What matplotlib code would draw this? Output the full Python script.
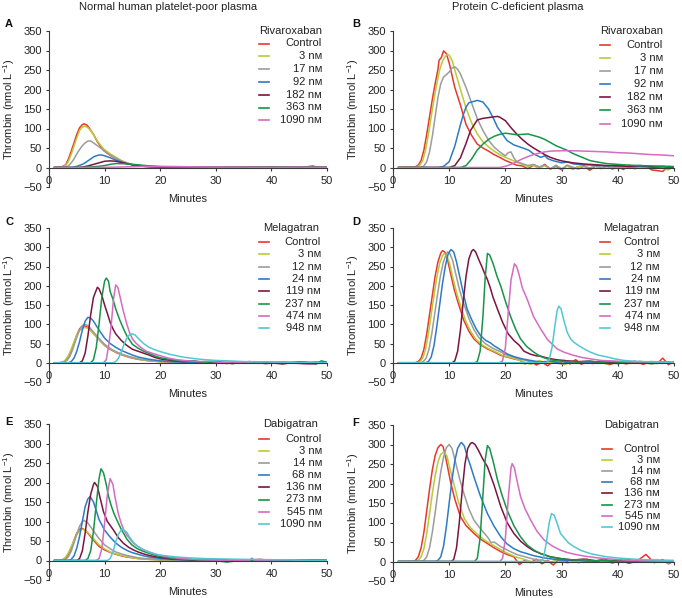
import matplotlib
matplotlib.use('Agg')
import matplotlib.pyplot as plt
from matplotlib.lines import Line2D

plt.rcParams['font.family'] = ['Liberation Sans', 'DejaVu Sans']
plt.rcParams['mathtext.fontset'] = 'custom'
plt.rcParams['mathtext.rm'] = 'Liberation Sans'
plt.rcParams['mathtext.it'] = 'Liberation Sans:italic'
plt.rcParams['font.size'] = 8

# ---------------- data ----------------
column_titles = ['Normal human platelet-poor plasma', 'Protein C-deficient plasma']
x_ticks = [0, 10, 20, 30, 40, 50]
y_ticks = [-50, 0, 50, 100, 150, 200, 250, 300, 350]

riva_labels = ['Control', '3 nᴍ', '17 nᴍ', '92 nᴍ', '182 nᴍ', '363 nᴍ', '1090 nᴍ']
mela_labels = ['Control', '3 nᴍ', '12 nᴍ', '24 nᴍ', '119 nᴍ', '237 nᴍ', '474 nᴍ', '948 nᴍ']
dabi_labels = ['Control', '3 nᴍ', '14 nᴍ', '68 nᴍ', '136 nᴍ', '273 nᴍ', '545 nᴍ', '1090 nᴍ']

# Panel A: rivaroxaban, normal plasma (minutes, thrombin nmol/L)
A_times = [
    [1,2,2.5,3,3.5,4,4.5,5,5.5,6,6.3,6.8,7.3,8,8.7,9.8,11,12.2,13,14,15,16,17,18,20,22,24,26,28,30,32,34,36,38,40,42,44,46,47.5,48.5,50],
    [1,2,2.5,3,3.5,4,4.5,5,5.5,6,6.5,7,7.5,8,8.7,9.8,11,12.2,13,14,15,16,17,18,20,25,30,35,40,45,50],
    [1,3,3.5,4,4.5,5,5.5,6,6.5,7,7.5,8,9,10,11,12,13,14,15,16,18,20,25,30,35,40,45,50],
    [1,4,5,6,6.5,7,7.5,8,8.5,9,9.5,10,11,12,13,14,15,16,18,20,25,30,35,40,45,50],
    [1,5,6,7,8,9,10,11,12,13,14,15,16,18,20,22,25,30,35,40,45,50],
    [1,6,7,8,9,10,11,12,13,14,15,16,18,20,22,25,30,35,40,45,50],
    [1,8,12,15,18,20,25,30,35,40,45,50],
]
A_values = [
    [0,1,3,7,22,42,63,85,102,110,112,109,100,85,66,44,31,22,16,11,7,5,3,2,1,1,0,2,-1,1,0,-1,1,0,2,-1,0,1,4,-2,1],
    [0,0,2,5,16,34,55,76,95,104,106,102,95,84,68,48,35,25,18,12,8,5,3,2,1,1,0,1,0,1,0],
    [0,1,4,12,22,35,46,56,63,68,68,63,53,42,32,24,17,11,7,4,2,1,1,0,1,0,1,0],
    [0,0,3,8,12,17,22,27,30,32,32,30,25,19,14,10,7,5,2,1,1,0,1,0,1,0],
    [0,0,1,4,8,12,16,17,16,13,10,7,5,3,2,1,1,0,1,0,1,0],
    [0,0,1,2,3,5,8,10,10,9,8,7,4,2,1,1,0,1,0,1,0],
    [0,0,1,2,3,3,2,1,1,0,1,0],
]

# Panel B: rivaroxaban, protein C-deficient plasma
B_times = [
    [1,4,4.5,5,5.5,6,6.5,7,7.5,8,8.2,8.6,9,9.5,10,10.5,11,12,13,14,15,16,17,18,19,20,21,22,23,24,25,26,27,28,29,30,31,32,33,34,35,36,37,38,39,40,41,42,43,44,45,46,47,48,49,50],
    [1,4.3,4.8,5.3,5.8,6.3,6.8,7.3,7.8,8.3,8.8,9.3,9.7,10,10.5,11,12,13,14,15,16,17,18,19,20,21,22,23,24,25,26,27,28,29,30,31,32,33,34,35,36,37,38,39,40,42,44,46,48,49,50],
    [1,5,5.5,6,6.5,7,7.5,8,8.5,9,9.5,10,10.5,11,11.5,12,13,14,15,16,17,18,19,20,20.5,21,21.5,22,23,24,25,26,27,28,29,30,31,32,33,34,35,36,38,40,42,44,46,48,50],
    [1,8,9,10,11,12,12.5,13,13.5,14,15,16,17,18,18.6,19.5,20.3,21.5,22.7,23.5,24.2,25,26.3,27,27.6,28.6,30,31,32.2,34,36,38,40,42,44,46,48,50],
    [1,10,11,12,13,13.8,15,16,17,18,18.6,19,20,21,22,23,24,25,26.3,27,28,29,30,32,34,36,38,40,42,44,46,48,50],
    [1,12,13,14,15,16,17,18,19,20,21,22,23,24,25,26,27,28,29,30,31,32,33,34,35,36,38,40,42,44,46,48,50],
    [1,19,20,21,22,23,24,25,26,27,28,30,32,34,36,38,40,42,44,46,48,50],
]
B_values = [
    [0,2,6,18,45,85,130,175,215,252,275,282,299,292,268,236,205,160,110,82,60,50,42,33,26,18,12,6,4,-3,6,-2,8,-4,3,-6,5,-3,2,4,-7,3,-2,5,-4,2,-5,6,-3,1,4,-6,-8,-10,3,2],
    [0,2,6,18,45,85,130,175,215,250,272,285,290,288,275,250,200,152,114,86,66,53,42,33,26,20,14,8,3,6,-3,5,-4,6,-3,4,-5,2,3,-2,4,-3,2,6,-2,3,-1,4,-2,-6,3],
    [0,0,4,15,40,80,130,180,215,232,238,245,255,258,252,240,205,165,125,95,70,52,40,30,38,40,25,15,10,5,8,2,6,-3,5,-4,6,1,-4,3,-1,4,-2,2,-1,3,0,2,0],
    [0,0,3,15,55,110,135,155,166,168,172,168,150,122,103,85,69,58,52,48,44,35,26,30,22,17,12,14,9,7,6,4,6,2,3,1,-2,2],
    [0,0,5,25,62,95,122,126,128,130,131,129,120,102,86,72,60,50,39,33,26,21,17,12,9,7,5,4,3,5,2,3,1],
    [0,0,5,22,45,60,72,80,85,88,86,84,85,86,82,78,72,64,56,50,44,36,30,24,18,15,10,8,6,5,4,3,2],
    [0,0,3,8,15,22,28,33,37,40,42,43,43,42,41,40,38,37,35,33,32,30],
]

# Panel C: melagatran, normal plasma
C_times = [
    [1,2,2.6,3,3.5,4,4.5,5,5.5,6,6.4,7,7.5,8,9,10,11,12,13,14,15,16,17,18,20,22,24,26,28,30,32,34,36,38,40,42,44,46,48,50],
    [1,2,2.6,3,3.5,4,4.5,5,5.5,6,6.5,7,7.5,8,9,10,11,12,13,14,15,16,17,18,20,22,25,30,35,40,45,50],
    [1,2.3,2.8,3.3,3.8,4.3,4.8,5.3,5.8,6.3,6.8,7.3,8,9,10,11,12,13,14,15,16,17,18,20,22,25,30,35,40,45,50],
    [1,3.5,4,4.5,5,5.5,6,6.5,7,7.5,8,9,10,11,12,13,14,15,16,17,18,20,22,25,30,35,40,45,50],
    [1,5.5,6,6.5,7,7.5,8,8.7,9,9.5,10,10.5,11,11.5,12,13,14,15,16,17,18,19,20,22,24,26,28,30,33,36,39,42,45,48,50],
    [1,7.5,8,8.5,9,9.5,10,10.3,10.7,11,11.5,12,12.7,13.5,14,15,16,17,18,19,20,22,24,26,28,30,33,36,39,42,45,48,49,50],
    [1,9.8,10.3,10.8,11.2,11.6,12,12.4,12.8,13.3,14,14.5,15,15.7,16.5,17.5,18.5,19.4,20.5,21.5,23,25,27,29,31,33,35,37,39,41,43,45,47,50],
    [1,11.5,12,12.5,13,13.5,14,14.5,15,15.5,16,17,18,19,20,21,22,23,24,25,26,28,30,32,35,38,40,45,50],
]
C_values = [
    [0,0,2,6,16,32,52,72,88,95,96,92,85,76,60,45,35,27,21,16,12,9,7,5,3,2,0,2,-1,1,-2,1,0,-1,2,-2,1,-1,2,0],
    [0,0,3,8,19,35,54,72,84,90,92,89,83,75,60,46,36,28,22,17,13,10,7,5,3,2,1,0,1,-1,1,0],
    [0,0,2,7,18,36,58,78,93,100,98,92,80,63,48,37,29,23,18,14,10,8,6,4,2,1,0,1,0,1,0],
    [0,0,3,12,30,55,85,108,118,116,108,85,64,50,40,32,26,20,15,12,9,5,3,1,0,1,-1,1,0],
    [0,0,5,25,70,125,170,196,192,175,150,128,105,88,75,58,45,35,30,25,20,14,10,6,3,4,0,2,-2,3,1,-3,2,-1,1],
    [0,0,8,40,100,170,212,220,212,185,165,140,112,85,70,48,38,30,24,18,13,8,4,5,1,3,-2,2,-1,2,-1,-4,5,1],
    [0,0,8,50,100,165,202,195,170,138,100,78,62,50,40,30,25,21,16,12,8,5,3,4,0,2,-1,3,-3,2,0,-2,-4,1],
    [0,0,3,12,28,48,64,73,75,72,64,50,40,34,29,25,21,18,15,13,11,8,6,5,3,2,2,1,0],
]

# Panel D: melagatran, protein C-deficient plasma
D_times = [
    [1,4,4.5,5,5.5,6,6.5,7,7.5,8,8.5,8.8,9.2,9.7,10.2,10.9,11.5,12.6,13.5,14.4,15.5,16.8,18,19.2,20.5,21.5,22.5,23.5,24.5,25.5,26.5,27.5,28.5,29.5,30.5,31.5,32.5,33.5,34.5,35.5,37,38.5,40,41.5,43,44.5,46,47,48,49,50],
    [1,4.3,4.8,5.3,5.8,6.3,6.8,7.3,7.8,8.3,8.8,9.1,9.5,10,10.5,11.2,11.8,12.9,13.8,14.7,15.8,17.1,18.3,19.5,20.8,21.8,23,24.5,26,27.5,29,30.5,32,34,36,38,40,42,44,46,48,50],
    [1,4.9,5.4,5.9,6.4,6.9,7.4,7.9,8.4,8.9,9.4,9.7,10.1,10.6,11.1,11.8,12.4,13.5,14.4,15.3,16.4,17.7,18.9,20.1,21.4,22.4,24,26,28,30,32,34,36,38,40,42,44,46,48,50],
    [1,5.8,6.3,6.8,7.3,7.8,8.3,8.8,9.3,9.8,10.3,10.8,11.3,12,12.6,13.2,14,14.8,15.6,16.5,17.3,18,19,20.3,21.5,23,24.5,26,28,30,32,34,36,38,40,42,44,46,48,50],
    [1,10.5,11,11.5,12,12.5,13,13.5,14,14.3,14.7,15.2,15.8,16.3,16.8,17.3,17.8,18.6,19.5,20.5,21.5,22.5,23.3,24.5,25.5,26.3,27.5,29,31,33,35,37,39,41,43,45,47,50],
    [1,14.5,15,15.5,16,16.4,16.8,17.2,17.8,18.5,19.2,20,20.9,21.8,22.7,23.8,25.1,26.3,27.5,29,31,33,35,37,39,41,43,45,47,50],
    [1,19,19.5,20,20.5,21,21.6,22,22.5,23,23.9,25,26.3,27.5,29.2,30.5,32.2,33.5,35.2,37,40,43,46,50],
    [1,27.3,27.8,28.3,28.8,29.2,29.5,29.9,30.4,31,31.6,32.2,33,34,35.2,36.5,38.1,39.5,41.1,43,46,50],
]
D_values = [
    [0,0,3,12,35,75,125,175,225,262,285,291,288,268,235,190,160,110,82,62,47,36,28,19,14,10,7,-3,5,-6,2,-8,4,-2,6,-3,8,-4,3,-2,5,-5,2,-3,4,-4,3,-2,12,-5,3],
    [0,0,3,12,35,75,125,175,222,258,278,284,280,262,230,188,158,110,82,62,47,36,28,19,14,10,4,-4,6,-2,3,-5,4,-1,3,-3,2,-2,4,-3,2,-1],
    [0,0,3,12,35,75,125,175,222,258,280,288,284,266,235,192,162,115,86,65,50,38,30,21,15,10,5,-2,4,-3,3,-1,2,-2,3,-1,2,-3,1,0],
    [0,0,3,15,45,95,150,205,250,282,294,288,262,215,175,139,112,88,70,58,52,44,35,23,16,10,6,2,4,-2,3,-1,2,0,-2,3,1,-1,2,0],
    [0,0,5,30,85,160,225,270,290,294,288,270,250,232,216,195,170,139,105,75,58,45,30,22,18,17,12,8,5,3,4,1,2,-1,3,0,1,0],
    [0,0,3,30,120,220,284,280,258,225,198,160,121,88,62,42,27,16,10,5,3,2,4,1,3,0,2,-1,1,0],
    [0,0,5,40,130,215,257,250,225,195,164,120,87,60,36,27,19,14,10,6,4,2,3,1],
    [0,0,8,40,95,135,147,140,110,79,62,53,45,36,27,20,15,10,6,4,2,1],
]

# Panel E: dabigatran, normal plasma
E_times = [
    [1,2,2.5,3,3.5,4,4.5,5,5.6,6,6.5,7,8,9,10,11,12,13,14,15,16,18,20,22,24,26,28,30,32,34,36,38,40,42,44,46,48,50],
    [1,2,2.5,3,3.5,4,4.5,5,5.5,6,6.3,7,8,9,10,11,12,13,14,15,16,18,20,25,30,35,40,45,50],
    [1,2.5,3,3.5,4,4.5,5,5.5,6,6.3,7,7.5,8,9,10,11,12,13,14,15,16,18,20,25,30,35,40,45,50],
    [1,3.5,4,4.5,5,5.5,6,6.5,7,7.4,8,8.5,9,10,11,12,13,14,15,16,17,18,20,22,25,30,35,40,45,50],
    [1,5,5.5,6,6.5,7,7.5,8,8.2,8.7,9.2,9.8,10.5,11.6,12.5,13.4,14.3,15.2,16,17,18,19,20,22,25,28,31,34,37,40,43,46,50],
    [1,6.5,7,7.5,8,8.5,9,9.35,9.8,10.3,10.7,11.2,11.7,12.2,13,14,14.9,15.8,16.7,17.5,18.5,19.5,21,23,26,29,32,35,38,41,44,47,50],
    [1,8.5,9,9.5,10,10.5,11,11.5,11.9,12.5,13,13.4,14,15.2,16,17,18,19,20,22,24,27,30,33,36,36.5,37,40,43,46,50],
    [1,10.5,11,11.5,12,12.5,13,13.3,14,14.5,15.2,16,17,18,19.5,21,23,25,28,31,35,40,45,50],
]
E_values = [
    [0,0,2,6,16,32,52,70,81,82,78,70,52,36,27,21,16,12,9,7,5,3,2,1,0,2,-1,1,0,-2,1,3,0,-1,1,-2,1,0],
    [0,0,3,9,20,36,52,66,76,80,79,72,56,40,30,22,17,13,10,7,5,3,1,1,0,1,0,1,0],
    [0,0,3,10,24,45,68,88,100,103,96,86,76,56,40,30,22,17,13,10,7,4,2,1,0,1,0,1,0],
    [0,0,3,12,32,62,100,138,158,164,150,128,105,78,60,45,34,26,20,16,12,9,5,3,1,0,1,0,1,0],
    [0,0,5,25,70,125,170,195,200,190,160,125,100,78,58,44,34,27,22,17,13,10,8,4,2,-2,1,-1,0,1,-1,0,0],
    [0,0,5,25,75,145,210,235,225,195,165,140,120,104,80,55,40,31,25,21,16,12,8,4,2,1,-4,1,0,2,-1,1,0],
    [0,0,5,30,95,170,210,195,160,118,95,80,65,44,36,27,22,17,13,8,5,2,1,-1,0,6,0,1,2,-1,0],
    [0,0,5,22,48,68,78,80,72,60,46,36,28,21,15,12,9,7,5,4,3,2,1,0],
]

# Panel F: dabigatran, protein C-deficient plasma
F_times = [
    [1,3.5,4,4.5,5,5.5,6,6.5,7,7.5,8,8.5,8.9,9.4,10.3,11,12,13,14.4,15.5,16.8,18,19.2,20.3,21.5,22.5,23.5,24.5,25.5,26.5,27.5,28.5,29.5,30.5,31.5,33,34.5,36,37.5,39,40.5,42,43.5,45,46.5,48,49,50],
    [1,4,4.5,5,5.5,6,6.5,7,7.5,8,8.5,9.1,9.6,10.1,11,11.7,12.7,13.7,15,16.2,17.4,18.6,19.8,21,22,23.5,25,26.5,28,29.5,31,33,35,37,39,41,43,45,47,49,50],
    [1,5,5.5,6,6.5,7,7.5,8,8.5,9,9.5,10,10.5,11,11.8,12.6,13.5,14.4,15.5,16.8,17.5,18,19.2,20.5,22,23.5,25,27,29,31,33,35,37,39,41,43,45,47,50],
    [1,7.5,8,8.5,9,9.5,10,10.5,11,11.5,12,12.2,12.7,13.2,13.8,14.4,15.5,16.8,18,19.2,20.3,21.5,22.7,23.9,25,27,29,31,33,35,37,39,41,43,45,47,50],
    [1,10.3,10.8,11.3,11.8,12.3,12.8,13.3,13.8,14.1,14.6,15.2,16,16.8,18,19.2,20.3,21.5,22.7,23.9,25,26.3,28,30,32,34,36,38,40,42,44,46,48,50],
    [1,14.5,15,15.5,16,16.4,16.8,17.2,17.8,18.6,19.4,20.3,21.5,22.7,23.9,25.1,26.3,28,30,32,34,36,38,40,42,44,46,48,50],
    [1,19,19.5,20,20.5,21,21.2,21.6,22.1,22.7,23.5,24.5,25.6,26.9,28.3,29.8,31,32.2,34,36,38,41,44,47,50],
    [1,26.3,26.8,27.3,27.8,28.2,28.7,29.2,29.8,30.5,31.2,32.2,33.5,35.2,36.5,38.1,40,43,46,50],
]
F_values = [
    [0,0,3,12,35,75,130,185,235,272,292,300,295,265,200,160,115,92,72,58,46,35,25,18,12,-8,4,-3,6,-6,3,-9,5,-2,4,-3,6,-2,8,-4,3,-5,2,18,-3,5,-6,2],
    [0,0,3,12,33,72,122,175,220,255,275,281,270,240,190,150,110,88,70,56,45,35,25,17,11,5,-3,4,-2,6,-4,3,-1,4,-3,2,-2,3,5,-4,2],
    [0,0,3,12,35,75,125,180,230,268,292,300,290,262,215,175,135,106,85,63,48,50,38,28,18,12,6,2,-3,4,-1,3,-2,2,0,-2,3,1,0],
    [0,0,3,12,40,90,150,210,258,290,303,305,296,270,245,217,170,123,90,63,45,33,25,20,15,9,5,2,4,-1,3,1,-2,2,0,1,0],
    [0,0,5,35,100,180,250,290,303,305,300,285,262,243,195,140,100,72,52,38,28,20,12,7,4,6,2,3,1,4,-1,2,0,1],
    [0,0,8,60,170,260,297,290,258,209,170,132,92,63,42,29,20,12,7,4,5,2,3,0,2,1,-1,1,0],
    [0,0,8,60,160,240,251,240,205,166,135,106,78,55,40,29,23,19,14,10,7,4,2,1,0],
    [0,0,10,50,100,123,118,98,72,60,48,38,28,20,16,12,9,6,4,3],
]

series_colors = ['#e8382e', '#b8cc36', '#9c9c9c', '#2c7bc4', '#7a1540', '#189448', '#d46cc2', '#52c7d3']

W, H = 682, 598
fig = plt.figure(figsize=(W / 100, H / 100), dpi=100)


def rect(x0, x1, ytop, ybot):
    return [x0 / W, 1 - ybot / H, (x1 - x0) / W, (ybot - ytop) / H]


panels = [
    dict(letter='A', rect=rect(49, 327, 31, 187), drug='Rivaroxaban', labels=riva_labels,
         times=A_times, values=A_values, lpos=(5, 24),
         leg=dict(h0=259, h1=269, lr=322, tx=259, ty=31, y0=43.5, dy=12.8)),
    dict(letter='B', rect=rect(393, 674, 31, 187), drug='Rivaroxaban', labels=riva_labels,
         times=B_times, values=B_values, lpos=(352, 24),
         leg=dict(h0=600, h1=610, lr=663, tx=600, ty=31, y0=44.5, dy=13.2)),
    dict(letter='C', rect=rect(49, 327, 228, 382), drug='Melagatran', labels=mela_labels,
         times=C_times, values=C_values, lpos=(5, 222),
         leg=dict(h0=259, h1=269, lr=321, tx=263, ty=228, y0=242, dy=12.3)),
    dict(letter='D', rect=rect(393, 674, 228, 382), drug='Melagatran', labels=mela_labels,
         times=D_times, values=D_values, lpos=(352, 222),
         leg=dict(h0=600, h1=610, lr=660, tx=603, ty=228, y0=242, dy=12.3)),
    dict(letter='E', rect=rect(49, 327, 424, 580), drug='Dabigatran', labels=dabi_labels,
         times=E_times, values=E_values, lpos=(5, 422),
         leg=dict(h0=259, h1=269, lr=322, tx=263, ty=424, y0=439, dy=12.1)),
    dict(letter='F', rect=rect(393, 674, 425, 581), drug='Dabigatran', labels=dabi_labels,
         times=F_times, values=F_values, lpos=(352, 423),
         leg=dict(h0=602, h1=612, lr=660, tx=604, ty=425, y0=449, dy=11.1)),
]

axis_color = '#3a3a3a'

for p in panels:
    ax = fig.add_axes(p['rect'])
    for i, (t, v) in enumerate(zip(p['times'], p['values'])):
        ax.plot(t, v, color=series_colors[i], lw=1.1, solid_joinstyle='round')
    ax.set_xlim(0, 50)
    ax.set_ylim(-50, 350)
    ax.set_xticks(x_ticks)
    ax.set_yticks(y_ticks)
    ax.spines['top'].set_visible(False)
    ax.spines['right'].set_visible(False)
    ax.spines['bottom'].set_position(('data', 0))
    for s in ('left', 'bottom'):
        ax.spines[s].set_color(axis_color)
        ax.spines[s].set_linewidth(0.8)
    ax.tick_params(axis='y', direction='out', length=2.5, width=0.8, pad=2.5,
                   colors=axis_color, labelcolor='#222222', labelsize=8)
    ax.tick_params(axis='x', direction='out', length=2.5, width=0.8, pad=3.5,
                   colors=axis_color, labelcolor='#222222', labelsize=8)
    ax.set_ylabel('Thrombin (nmol L$^{-1}$)', fontsize=8, color='#222222')
    ax.yaxis.set_label_coords(-0.115, 0.5)
    ax.set_xlabel('Minutes', fontsize=8, color='#222222')
    ax.xaxis.set_label_coords(0.5, -0.075)
    ax.xaxis.label.set_va('center')
    ax.patch.set_alpha(0)

    lg = p['leg']
    fig.text(lg['tx'] / W, 1 - lg['ty'] / H, p['drug'], ha='left', va='center',
             fontsize=8, color='#222222')
    for i, lab in enumerate(p['labels']):
        yy = lg['y0'] + i * lg['dy']
        fig.add_artist(Line2D([lg['h0'] / W, lg['h1'] / W], [1 - yy / H, 1 - yy / H],
                              color=series_colors[i], lw=1.2, transform=fig.transFigure))
        fig.text(lg['lr'] / W, 1 - yy / H, lab, ha='right', va='center', fontsize=8,
                 color='#222222')
    fig.text(p['lpos'][0] / W, 1 - p['lpos'][1] / H, p['letter'], ha='left', va='center',
             fontsize=8, fontweight='bold', color='#111111')

fig.text(168 / W, 1 - 7 / H, column_titles[0], ha='center', va='center', fontsize=8,
         color='#222222')
fig.text(518 / W, 1 - 7 / H, column_titles[1], ha='center', va='center', fontsize=8,
         color='#222222')

fig.savefig('out.png', dpi=100)
